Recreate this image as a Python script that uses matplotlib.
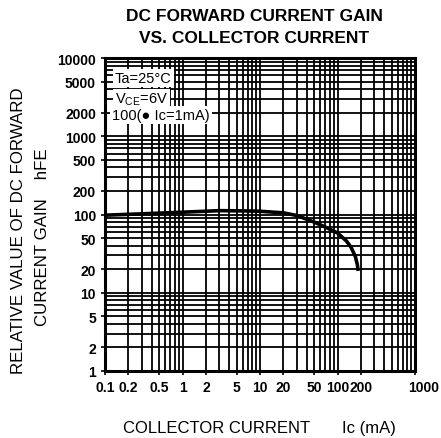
import numpy as np
import matplotlib
matplotlib.use("Agg")
import matplotlib.pyplot as plt
import matplotlib.transforms as mtransforms

plt.rcParams['font.family'] = ['Liberation Sans', 'DejaVu Sans']

# data
ic_ma = [0.1, 0.3, 1, 3, 7, 10, 20, 30, 50, 70, 100, 130, 150, 170, 180, 185]
hfe = [98, 102, 107, 112, 111, 110, 105, 97, 80, 69, 58, 46, 38, 29, 23, 19]

x_ticks = [0.1, 0.2, 0.5, 1, 2, 5, 10, 20, 50, 100, 200, 1000]
x_labels = ['0.1', '0.2', '0.5', '1', '2', '5', '10', '20', '50', '100', '200', '1000']
y_ticks = [1, 2, 5, 10, 20, 50, 100, 200, 500, 1000, 2000, 5000, 10000]
y_labels = ['1', '2', '5', '10', '20', '50', '100', '200', '500', '1000', '2000', '5000', '10000']


def main():
    fig = plt.figure(figsize=(4.41, 4.39), dpi=100)
    ax = fig.add_axes([105 / 441, 67 / 439, 310 / 441, 313 / 439])
    ax.set_xscale('log')
    ax.set_yscale('log')
    ax.set_xlim(0.1, 1000)
    ax.set_ylim(1, 10000)

    # full log grid, every 1..9 of each decade
    for dec in [0.1, 1, 10, 100]:
        for m in range(1, 10):
            ax.axvline(dec * m, color='black', lw=1.3, zorder=1)
    for dec in [1, 10, 100, 1000]:
        for m in range(1, 10):
            ax.axhline(dec * m, color='black', lw=1.3, zorder=1)

    ax.plot(ic_ma, hfe, color='black', lw=2.6, zorder=3, solid_capstyle='butt')

    ax.minorticks_off()
    ax.set_xticks(x_ticks)
    ax.set_xticklabels(x_labels)
    ax.set_yticks(y_ticks)
    ax.set_yticklabels(y_labels)
    ax.tick_params(axis='both', direction='out', length=3, width=1.2, labelsize=10)
    for lab in ax.get_yticklabels():
        lab.set_fontweight('bold')
    for lab in ax.get_xticklabels():
        lab.set_fontweight('bold')
    # the 1000 label sits a bit right of the frame in the original
    lab = ax.get_xticklabels()[-1]
    lab.set_transform(lab.get_transform() + mtransforms.ScaledTranslation(9 / 100, 0, fig.dpi_scale_trans))
    for s in ax.spines.values():
        s.set_linewidth(2.2)

    box = dict(facecolor='white', edgecolor='none', pad=1.5)
    ax.text(0.032, 0.936, 'Ta=25°C', transform=ax.transAxes, fontsize=10.5,
            va='center', ha='left', bbox=box, zorder=4)
    ax.text(0.032, 0.869, r'V$_{\mathregular{CE}}$=6V', transform=ax.transAxes, fontsize=10.5,
            va='center', ha='left', bbox=box, zorder=4)
    ax.text(0.024, 0.818, '100(● Ic=1mA)', transform=ax.transAxes, fontsize=10.5,
            va='center', ha='left', bbox=box, zorder=4)

    fig.text(0.578, 0.962, 'DC FORWARD CURRENT GAIN', ha='center', va='center',
             fontsize=12.5, fontweight='bold')
    fig.text(0.575, 0.912, 'VS. COLLECTOR CURRENT', ha='center', va='center',
             fontsize=12.5, fontweight='bold')
    fig.text(0.043, 0.475, 'RELATIVE VALUE OF DC FORWARD', ha='center', va='center',
             rotation=90, fontsize=12.2)
    fig.text(0.097, 0.46, 'CURRENT GAIN    hFE', ha='center', va='center',
             rotation=90, fontsize=12.2)
    fig.text(0.28, 0.025, 'COLLECTOR CURRENT', ha='left', va='center', fontsize=12)
    fig.text(0.775, 0.025, 'Ic (mA)', ha='left', va='center', fontsize=12)

    fig.savefig('out.png', dpi=100)


if __name__ == "__main__":
    main()
